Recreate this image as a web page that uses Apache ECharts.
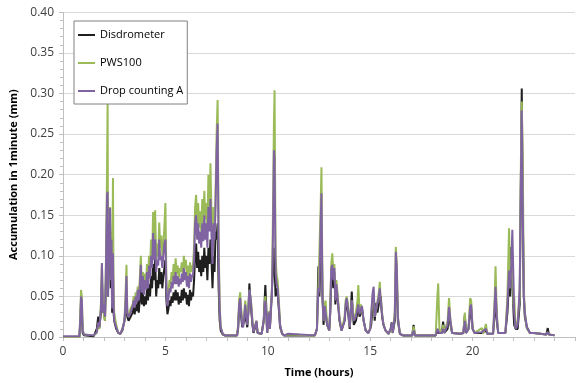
<!DOCTYPE html>
<html><head><meta charset="utf-8">
<script src="https://cdn.jsdelivr.net/npm/echarts@6/dist/echarts.min.js"></script>
<style>html,body{margin:0;padding:0;background:#fff}#c{width:578px;height:383px}</style>
</head><body><div id="c"></div>
<script>
// Time (hours) of each sample
const hours = [
 0.00,0.80,0.85,0.88,0.92,0.96,1.02,1.50,1.65,1.72,
 1.78,1.85,1.90,1.95,2.00,2.05,2.10,2.15,2.18,2.20,
 2.23,2.27,2.30,2.33,2.37,2.40,2.44,2.47,2.50,2.60,
 2.70,2.80,2.90,3.00,3.05,3.10,3.14,3.20,3.30,3.40,
 3.45,3.50,3.55,3.60,3.65,3.70,3.75,3.80,3.85,3.90,
 3.95,4.00,4.05,4.10,4.15,4.20,4.25,4.30,4.35,4.40,
 4.45,4.50,4.55,4.60,4.65,4.70,4.75,4.80,4.85,4.90,
 4.95,5.00,5.05,5.10,5.15,5.20,5.25,5.30,5.35,5.40,
 5.45,5.50,5.55,5.60,5.65,5.70,5.75,5.80,5.85,5.90,
 5.95,6.00,6.05,6.10,6.15,6.20,6.25,6.30,6.35,6.40,
 6.45,6.50,6.55,6.60,6.65,6.70,6.75,6.80,6.85,6.90,
 6.95,7.00,7.05,7.10,7.15,7.20,7.25,7.30,7.35,7.40,
 7.45,7.50,7.55,7.60,7.65,7.70,7.80,7.90,8.50,8.55,
 8.60,8.65,8.70,8.75,8.80,8.85,8.90,8.95,9.00,9.05,
 9.10,9.15,9.20,9.25,9.30,9.45,9.50,9.70,9.80,9.88,
 9.92,9.97,10.05,10.10,10.15,10.20,10.25,10.30,10.33,10.38,
 10.43,10.48,10.55,10.60,10.70,10.80,11.00,12.30,12.40,12.47,
 12.52,12.58,12.62,12.67,12.72,12.78,12.82,12.90,13.00,13.05,
 13.10,13.15,13.20,13.25,13.30,13.35,13.42,13.50,13.60,13.65,
 13.75,13.80,13.85,13.92,14.00,14.05,14.10,14.15,14.20,14.30,
 14.38,14.42,14.48,14.55,14.60,14.68,14.78,14.90,15.00,15.05,
 15.12,15.17,15.22,15.30,15.35,15.42,15.47,15.52,15.58,15.65,
 15.75,15.90,16.00,16.05,16.10,16.20,16.25,16.30,16.35,16.45,
 16.60,17.05,17.12,17.18,18.20,18.28,18.32,18.38,18.50,18.56,
 18.62,18.78,18.85,18.92,19.00,19.40,19.55,19.62,19.68,19.80,
 19.88,19.93,20.00,20.10,20.45,20.52,20.65,20.72,21.00,21.08,
 21.12,21.18,21.25,21.60,21.70,21.78,21.84,21.89,21.94,22.00,
 22.03,22.10,22.20,22.30,22.36,22.40,22.45,22.50,22.55,22.65,
 22.80,23.00,23.60,23.67,23.73,24.00
];
// Accumulation in 1 minute (mm)
const disdrometer = [
 0.000,0.000,0.020,0.045,0.030,0.005,0.002,0.001,0.010,0.025,
 0.012,0.030,0.070,0.030,0.035,0.020,0.070,0.150,0.170,0.050,
 0.120,0.080,0.140,0.060,0.100,0.030,0.080,0.030,0.020,0.010,
 0.005,0.004,0.008,0.020,0.030,0.060,0.025,0.020,0.025,0.030,
 0.038,0.028,0.040,0.032,0.045,0.030,0.048,0.060,0.040,0.055,
 0.038,0.050,0.040,0.060,0.045,0.065,0.050,0.075,0.060,0.090,
 0.070,0.095,0.050,0.070,0.060,0.085,0.065,0.080,0.060,0.075,
 0.085,0.095,0.045,0.028,0.035,0.045,0.038,0.050,0.042,0.055,
 0.045,0.058,0.045,0.055,0.040,0.050,0.042,0.058,0.045,0.060,
 0.048,0.055,0.040,0.052,0.038,0.058,0.045,0.055,0.050,0.070,
 0.100,0.115,0.085,0.105,0.080,0.095,0.075,0.100,0.080,0.110,
 0.085,0.100,0.070,0.110,0.090,0.120,0.095,0.060,0.100,0.080,
 0.130,0.120,0.140,0.060,0.020,0.008,0.003,0.002,0.002,0.010,
 0.035,0.040,0.025,0.012,0.010,0.020,0.035,0.020,0.012,0.030,
 0.066,0.045,0.030,0.015,0.005,0.018,0.005,0.004,0.020,0.064,
 0.040,0.005,0.030,0.010,0.030,0.058,0.080,0.110,0.110,0.050,
 0.060,0.055,0.030,0.012,0.004,0.002,0.002,0.002,0.010,0.087,
 0.050,0.100,0.140,0.050,0.015,0.035,0.030,0.015,0.008,0.030,
 0.070,0.080,0.060,0.080,0.040,0.060,0.045,0.020,0.008,0.010,
 0.020,0.035,0.045,0.030,0.010,0.030,0.056,0.030,0.015,0.020,
 0.030,0.040,0.025,0.030,0.035,0.020,0.008,0.005,0.010,0.015,
 0.040,0.045,0.020,0.042,0.030,0.040,0.045,0.050,0.025,0.015,
 0.008,0.004,0.010,0.018,0.005,0.020,0.080,0.070,0.020,0.004,
 0.002,0.002,0.015,0.002,0.002,0.010,0.005,0.004,0.005,0.019,
 0.005,0.010,0.030,0.015,0.005,0.004,0.005,0.027,0.005,0.010,
 0.030,0.035,0.010,0.005,0.005,0.004,0.008,0.004,0.004,0.030,
 0.060,0.020,0.005,0.005,0.030,0.070,0.050,0.111,0.080,0.030,
 0.015,0.010,0.010,0.040,0.200,0.306,0.150,0.050,0.025,0.012,
 0.005,0.005,0.003,0.011,0.003,0.002
];
const pws100 = [
 0.000,0.000,0.030,0.058,0.050,0.010,0.003,0.002,0.005,0.015,
 0.010,0.040,0.090,0.040,0.025,0.020,0.100,0.203,0.296,0.060,
 0.150,0.100,0.160,0.080,0.130,0.040,0.196,0.050,0.030,0.015,
 0.005,0.004,0.010,0.020,0.050,0.089,0.030,0.025,0.035,0.040,
 0.050,0.042,0.055,0.048,0.062,0.050,0.072,0.100,0.065,0.080,
 0.060,0.078,0.065,0.090,0.070,0.100,0.085,0.120,0.095,0.154,
 0.110,0.156,0.095,0.115,0.100,0.141,0.110,0.125,0.100,0.115,
 0.135,0.165,0.070,0.040,0.055,0.070,0.065,0.080,0.070,0.090,
 0.075,0.097,0.078,0.088,0.072,0.085,0.080,0.092,0.078,0.100,
 0.085,0.095,0.072,0.088,0.070,0.092,0.080,0.085,0.090,0.110,
 0.160,0.175,0.140,0.165,0.135,0.155,0.130,0.170,0.140,0.180,
 0.145,0.165,0.130,0.200,0.150,0.214,0.150,0.100,0.160,0.130,
 0.180,0.250,0.292,0.120,0.040,0.012,0.004,0.002,0.002,0.015,
 0.045,0.055,0.035,0.020,0.015,0.030,0.045,0.030,0.015,0.035,
 0.058,0.050,0.040,0.020,0.008,0.020,0.005,0.004,0.020,0.050,
 0.030,0.005,0.032,0.010,0.040,0.050,0.150,0.265,0.304,0.100,
 0.076,0.070,0.040,0.015,0.004,0.002,0.003,0.002,0.010,0.060,
 0.060,0.160,0.209,0.060,0.020,0.040,0.045,0.015,0.008,0.040,
 0.090,0.103,0.080,0.090,0.050,0.070,0.050,0.025,0.008,0.006,
 0.025,0.045,0.050,0.040,0.012,0.030,0.045,0.035,0.020,0.030,
 0.045,0.064,0.030,0.040,0.042,0.020,0.008,0.005,0.010,0.012,
 0.050,0.055,0.025,0.035,0.035,0.055,0.068,0.040,0.030,0.015,
 0.008,0.004,0.010,0.012,0.005,0.030,0.111,0.090,0.025,0.004,
 0.002,0.002,0.013,0.002,0.002,0.050,0.066,0.010,0.005,0.015,
 0.005,0.020,0.048,0.020,0.005,0.004,0.005,0.030,0.005,0.010,
 0.048,0.045,0.010,0.005,0.011,0.004,0.016,0.004,0.004,0.050,
 0.087,0.030,0.005,0.005,0.050,0.134,0.060,0.090,0.100,0.040,
 0.050,0.010,0.020,0.050,0.220,0.290,0.220,0.060,0.030,0.010,
 0.005,0.005,0.003,0.006,0.003,0.002
];
const dropCountingA = [
 0.001,0.001,0.025,0.050,0.045,0.008,0.003,0.002,0.006,0.018,
 0.012,0.035,0.091,0.030,0.040,0.025,0.090,0.175,0.179,0.050,
 0.140,0.090,0.159,0.070,0.120,0.035,0.103,0.040,0.020,0.012,
 0.005,0.004,0.010,0.020,0.040,0.075,0.030,0.025,0.030,0.038,
 0.045,0.036,0.050,0.042,0.058,0.045,0.062,0.089,0.055,0.075,
 0.052,0.070,0.058,0.080,0.060,0.088,0.072,0.100,0.085,0.128,
 0.095,0.120,0.080,0.095,0.088,0.120,0.095,0.100,0.085,0.100,
 0.115,0.120,0.060,0.038,0.048,0.060,0.055,0.068,0.060,0.075,
 0.065,0.080,0.065,0.075,0.062,0.072,0.065,0.078,0.068,0.085,
 0.070,0.080,0.062,0.075,0.060,0.078,0.068,0.075,0.078,0.095,
 0.140,0.150,0.120,0.140,0.115,0.130,0.110,0.140,0.118,0.150,
 0.120,0.140,0.110,0.160,0.130,0.170,0.125,0.090,0.140,0.120,
 0.160,0.230,0.263,0.100,0.035,0.012,0.004,0.002,0.002,0.012,
 0.040,0.048,0.030,0.015,0.012,0.025,0.040,0.025,0.015,0.030,
 0.058,0.050,0.035,0.018,0.006,0.020,0.005,0.004,0.020,0.045,
 0.030,0.005,0.030,0.010,0.035,0.050,0.120,0.230,0.220,0.080,
 0.065,0.060,0.035,0.015,0.004,0.002,0.004,0.002,0.010,0.060,
 0.055,0.140,0.177,0.050,0.020,0.038,0.040,0.015,0.008,0.035,
 0.085,0.089,0.070,0.085,0.045,0.065,0.045,0.022,0.008,0.006,
 0.020,0.040,0.048,0.035,0.012,0.030,0.045,0.030,0.020,0.025,
 0.035,0.040,0.028,0.035,0.038,0.020,0.008,0.005,0.010,0.012,
 0.055,0.062,0.025,0.035,0.033,0.050,0.060,0.040,0.028,0.015,
 0.008,0.004,0.010,0.017,0.005,0.025,0.105,0.085,0.025,0.004,
 0.002,0.002,0.008,0.002,0.002,0.010,0.010,0.005,0.005,0.010,
 0.005,0.015,0.037,0.020,0.005,0.004,0.005,0.020,0.005,0.010,
 0.037,0.040,0.010,0.005,0.006,0.004,0.010,0.004,0.004,0.040,
 0.062,0.025,0.005,0.005,0.040,0.082,0.060,0.090,0.132,0.066,
 0.030,0.010,0.015,0.060,0.200,0.279,0.160,0.050,0.030,0.012,
 0.005,0.005,0.003,0.006,0.003,0.002
];
const seriesNames = ['Disdrometer', 'PWS100', 'Drop counting A'];
const seriesColors = ['#1f1f1f', '#9bbb59', '#8064a2'];
const seriesValues = [disdrometer, pws100, dropCountingA];

const FONT = 'Open Sans';
const chart = echarts.init(document.getElementById('c'));
chart.setOption({
  animation: false,
  textStyle: { fontFamily: FONT },
  grid: { left: 61.3, top: 12.3, width: 541.7, height: 324.7 },
  legend: {
    data: seriesNames,
    orient: 'vertical',
    left: 74, top: 21,
    padding: [7, 4, 6, 4],
    itemGap: 14,
    itemWidth: 17, itemHeight: 2,
    icon: 'rect',
    backgroundColor: '#fff',
    borderColor: '#808080', borderWidth: 1,
    textStyle: { fontFamily: FONT, fontSize: 11, color: '#000', lineHeight: 14 }
  },
  xAxis: {
    type: 'value', min: 0, max: 25, interval: 5,
    name: 'Time (hours)', nameLocation: 'middle', nameGap: 30,
    nameTextStyle: { fontFamily: FONT, fontWeight: 'bold', fontSize: 11, color: '#000' },
    axisLine: { show: true, lineStyle: { color: '#bfbfbf', width: 1 } },
    axisTick: { show: true, length: 4, lineStyle: { color: '#bfbfbf' } },
    minorTick: { show: true, splitNumber: 5, length: 4, lineStyle: { color: '#bfbfbf' } },
    axisLabel: { fontFamily: FONT, fontSize: 12, color: '#404040', margin: 9,
      formatter: v => (v > 24 ? '' : String(v)) },
    splitLine: { show: false }
  },
  yAxis: {
    type: 'value', min: 0, max: 0.4, interval: 0.05,
    name: 'Accumulation in 1minute (mm)', nameLocation: 'middle', nameGap: 44,
    nameTextStyle: { fontFamily: FONT, fontWeight: 'bold', fontSize: 11, color: '#000' },
    axisLine: { show: true, lineStyle: { color: '#bfbfbf', width: 1 } },
    axisTick: { show: true, length: 4, lineStyle: { color: '#bfbfbf' } },
    minorTick: { show: true, splitNumber: 5, length: 3, lineStyle: { color: '#bfbfbf' } },
    axisLabel: { fontFamily: FONT, fontSize: 12, color: '#404040', margin: 9,
      formatter: v => v.toFixed(2) },
    splitLine: { show: true, lineStyle: { color: '#d9d9d9', width: 1 } }
  },
  series: seriesNames.map((name, k) => ({
    name: name,
    type: 'line',
    data: hours.map((t, i) => [t, seriesValues[k][i]]),
    showSymbol: false,
    symbol: 'none',
    color: seriesColors[k],
    lineStyle: { width: 2, color: seriesColors[k] },
    itemStyle: { color: seriesColors[k] },
    z: 2 + k
  }))
});
</script>
</body></html>
